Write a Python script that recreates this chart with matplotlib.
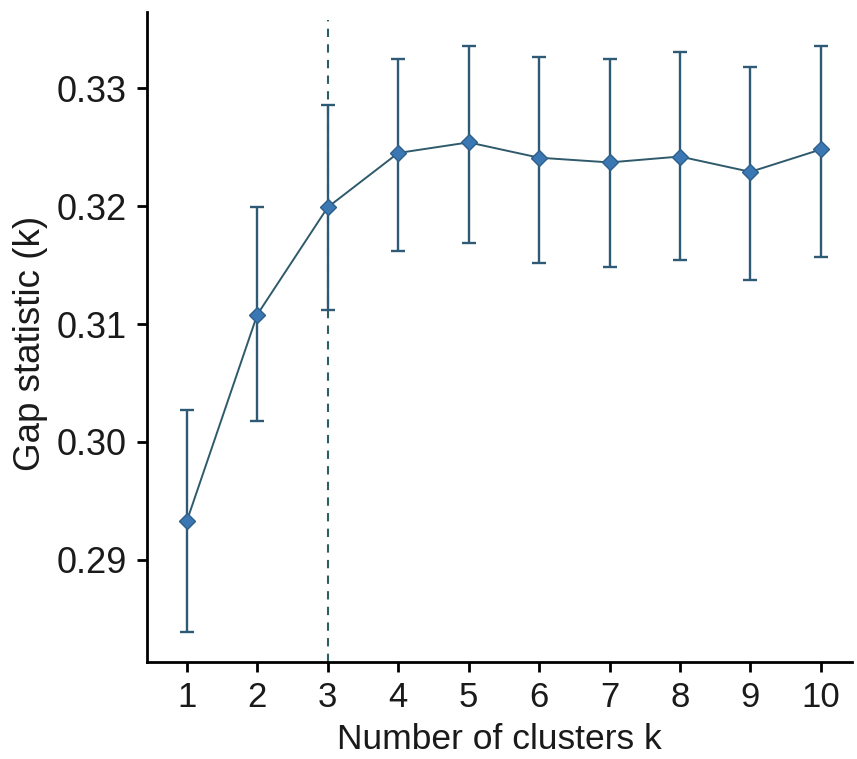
import matplotlib
matplotlib.use("Agg")
import matplotlib.pyplot as plt

plt.rcParams['font.family'] = ['Liberation Sans', 'DejaVu Sans']

k = [1, 2, 3, 4, 5, 6, 7, 8, 9, 10]
gap = [0.2933, 0.3108, 0.3199, 0.3245, 0.3254, 0.3241, 0.3237, 0.3242, 0.3229, 0.3248]
err_low = [0.2839, 0.3018, 0.3112, 0.3162, 0.3169, 0.3152, 0.3148, 0.3154, 0.3137, 0.3157]
err_high = [0.3027, 0.3199, 0.3286, 0.3325, 0.3336, 0.3326, 0.3325, 0.3331, 0.3318, 0.3336]
best_k = 3

fig = plt.figure(figsize=(8.57, 7.59), dpi=100)
ax = fig.add_axes([0.172, 0.128, 0.822, 0.856])

lower = [g - lo for g, lo in zip(gap, err_low)]
upper = [hi - g for g, hi in zip(gap, err_high)]

ax.axvline(best_k, ymax=0.988, color="#2e5e5e", linestyle=(0, (4, 3.5)), linewidth=1.5, zorder=1)
ax.errorbar(k, gap, yerr=[lower, upper], fmt="none", ecolor="#2f5a76",
            elinewidth=1.7, capsize=5, capthick=1.7, zorder=2)
ax.plot(k, gap, color="#2f5a6c", linewidth=1.4, zorder=3)
ax.plot(k, gap, linestyle="none", marker="D", markersize=8.5,
        markerfacecolor="#3b78b3", markeredgecolor="#2d5f8a", markeredgewidth=1, zorder=4)

ax.set_xlim(0.44, 10.44)
ax.set_ylim(0.28136, 0.33644)
ax.set_xticks(k)
ax.set_yticks([0.29, 0.30, 0.31, 0.32, 0.33])
ax.set_yticklabels(["0.29", "0.30", "0.31", "0.32", "0.33"])

for side in ["top", "right"]:
    ax.spines[side].set_visible(False)
for side in ["left", "bottom"]:
    ax.spines[side].set_linewidth(2)
    ax.spines[side].set_color("black")

ax.tick_params(axis="both", width=2, length=7, color="black", labelcolor="#1a1a1a")
ax.tick_params(axis="x", labelsize=25, pad=7)
ax.tick_params(axis="y", labelsize=26, pad=8)

ax.set_xlabel("Number of clusters k", fontsize=25.5, color="#1a1a1a", labelpad=6)
ax.set_ylabel("Gap statistic (k)", fontsize=26.5, color="#1a1a1a")
ax.yaxis.set_label_coords(-0.141, 0.49)

fig.savefig("out.png", dpi=100)
